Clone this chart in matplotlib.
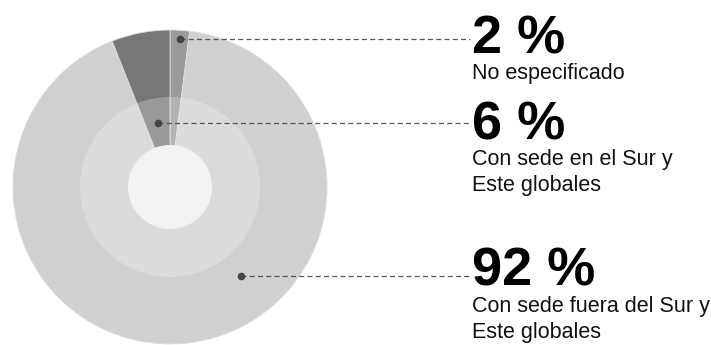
import matplotlib
matplotlib.use("Agg")
import matplotlib.pyplot as plt
from matplotlib.patches import Circle

# data
values = [2, 92, 6]
pct_labels = ["2 %", "92 %", "6 %"]
desc_labels = [["No especificado"],
               ["Con sede fuera del Sur y", "Este globales"],
               ["Con sede en el Sur y", "Este globales"]]
colors = ["#9a9a9a", "#d0d0d0", "#777777"]

W, H = 711, 345
cx, cy, R = 170, H - 187, 157

plt.rcParams['font.family'] = ['Liberation Sans', 'DejaVu Sans']

fig = plt.figure(figsize=(W / 100, H / 100), dpi=100)
ax = fig.add_axes([0, 0, 1, 1])

wedges, _ = ax.pie(values, colors=colors, startangle=90, counterclock=False,
                   center=(cx, cy), radius=R,
                   wedgeprops=dict(edgecolor="#dcdcdc", linewidth=0.6))

# lighter rings toward the centre
ax.add_patch(Circle((cx, cy), 90, facecolor="white", alpha=0.25, lw=0))
ax.add_patch(Circle((cx, cy), 42, facecolor="#f2f2f2", lw=0))

# marker dots (pixel positions) and label blocks
dots = [(180, 39), (241, 276), (158, 123)]
pct_base = [53, 285, 139]
desc_base = [79, 312, 165]
tx = 472
line_gap = 26

for (dx, dy), p, lines, pb, db in zip(dots, pct_labels, desc_labels, pct_base, desc_base):
    ax.plot([dx, tx - 2], [H - dy, H - dy], color="#555555", lw=0.9,
            linestyle=(0, (4, 2.6)))
    ax.plot(dx, H - dy, "o", color="#444444", ms=4.5)
    ax.text(tx, H - pb, p, fontsize=39, fontweight="bold", va="baseline",
            ha="left", color="black")
    for i, line in enumerate(lines):
        ax.text(tx, H - (db + i * line_gap), line, fontsize=15.5,
                va="baseline", ha="left", color="#111111")

ax.set_xlim(0, W)
ax.set_ylim(0, H)
ax.set_aspect("equal")
ax.axis("off")

fig.savefig("out.png", dpi=100)
